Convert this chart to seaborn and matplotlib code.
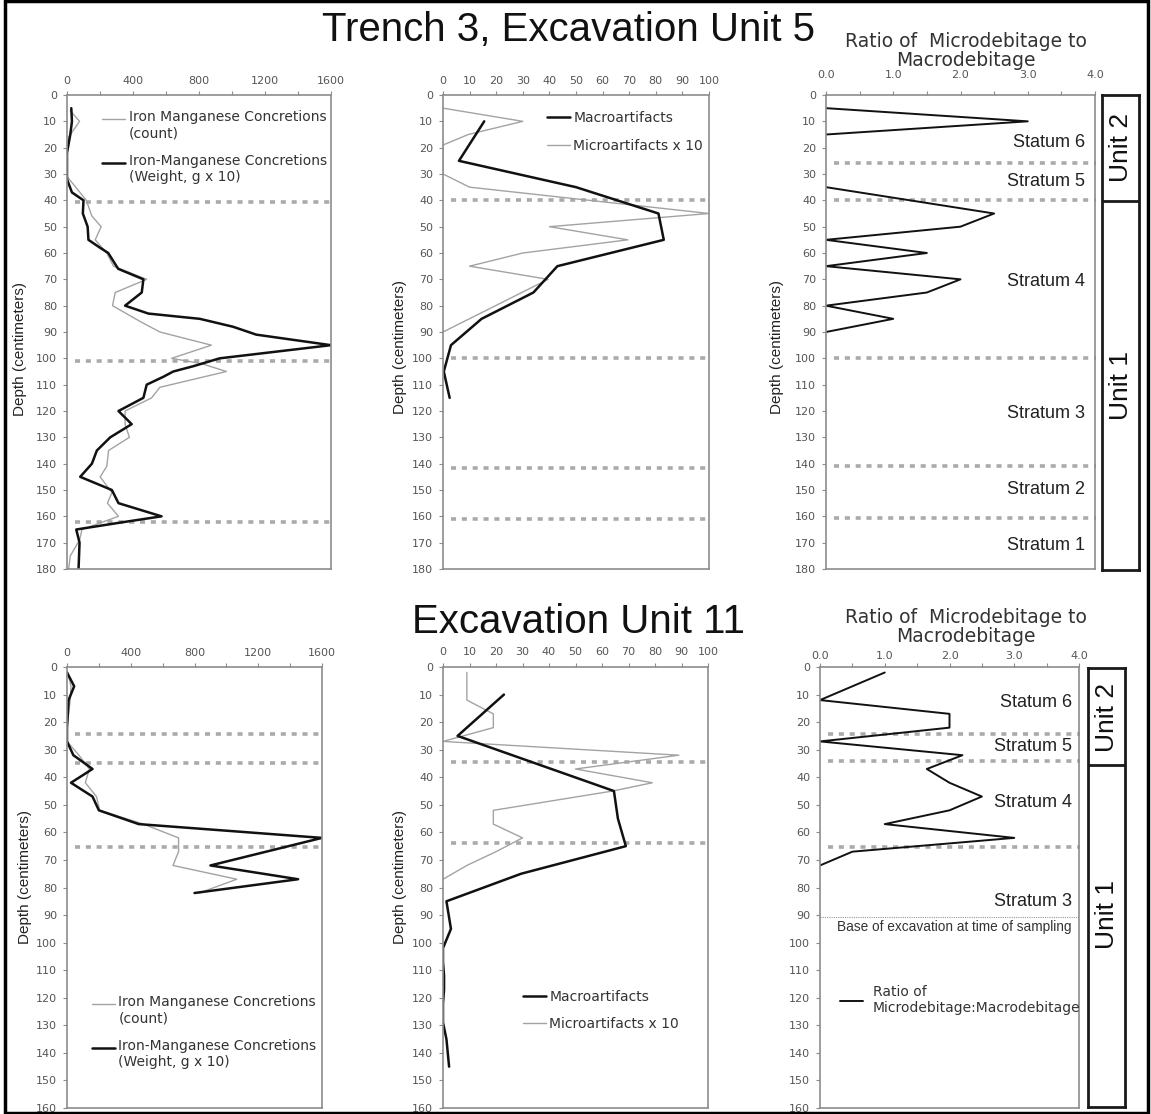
import numpy as np
import pandas as pd
import matplotlib
matplotlib.use("Agg")
import matplotlib.pyplot as plt
import seaborn as sns
from matplotlib.ticker import MultipleLocator, FormatStrFormatter
from matplotlib.lines import Line2D
from matplotlib.patches import Rectangle
from matplotlib.legend_handler import HandlerLine2D

nan = np.nan

# ---------------- DATA ----------------
# Trench 3, Excavation Unit 5 -- iron-manganese concretions
t1_w_depth = [5, 10, 15, 22, 27, 32, 37, 40, 45, 50, 55, 58, 60, 66, 70, 75, 80, 83, 85, 88,
              91, 95, 100, 103, 105, 107, 110, 115, 120, 125, 130, 135, 140, 145, 150, 155,
              160, 162, 165, 170, 180]
t1_w = [26, 30, 20, 0, 0, 0, 30, 100, 96, 125, 130, 200, 250, 310, 463, 453, 352, 493, 805, 1006,
        1147, 1600, 925, 765, 644, 584, 483, 463, 312, 392, 262, 181, 151, 80, 272, 312,
        573, 362, 56, 76, 70]
t1_c_depth = [6, 10, 16, 22, 27, 31, 34, 40, 46, 50, 55, 60, 65, 70, 75, 80, 86, 90, 95, 100,
              102, 105, 111, 115, 120, 125, 130, 135, 141, 145, 151, 155, 160, 165, 169, 175, 180]
t1_c = [20, 76, 10, 0, 0, 0, 40, 117, 151, 207, 171, 241, 282, 483, 292, 276, 443, 563, 875, 634,
        815, 966, 563, 513, 352, 352, 378, 252, 241, 201, 272, 245, 312, 91, 76, 20, 10]

# Trench 3, EU5 -- artifacts
t2_mac_depth = [10, 25, 35, 45, 55, 65, 75, 85, 95, 105, 115]
t2_mac = [15.5, 6, 50, 81, 83, 43, 34, 14.5, 3, 0.3, 2.5]
t2_mic_depth = [5, 10, 15, 19, 25, 30, 35, 45, 50, 55, 60, 65, 70, 90]
t2_mic = [0, 30, 9.5, 0, 0, 0, 10, 100, 40, 69.5, 30, 10, 39.5, 0]

# Trench 3, EU5 -- ratio micro:macro debitage
t3_depth = [5, 10, 15, 25, 35, 45, 50, 55, 60, 65, 70, 75, 80, 85, 90]
t3_ratio = [0, 3.0, 0, nan, 0, 2.5, 2.0, 0, 1.5, 0, 2.0, 1.5, 0, 1.0, 0]

# Excavation Unit 11 -- iron-manganese concretions
b1_depth = [2, 7, 12, 17, 22, 27, 32, 37, 42, 47, 52, 57, 62, 67, 72, 77, 82]
b1_w = [0, 45, 10, 5, 0, 0, 40, 160, 25, 160, 200, 450, 1600, 1250, 900, 1450, 800]
b1_c = [5, 25, 20, 10, 0, 0, 75, 140, 115, 185, 205, 480, 700, 700, 665, 1065, 830]

# EU11 -- artifacts
b2_mac_depth = [10, 25, 45, 55, 65, 75, 85, 95, 102, 107, 112, 117, 122, 129, 135, 145]
b2_mac = [23, 5.5, 64.5, 66, 69, 29.5, 1.3, 3, 0, 0, 0.4, 0.4, 0, 0, 1.3, 2.3]
b2_mic_depth = [2, 12, 17, 22, 27, 32, 37, 42, 45, 52, 57, 62, 67, 72, 77]
b2_mic = [9, 9, 19, 19, 0, 89, 50, 79, 64, 19, 19, 30, 20, 9, 0]

# EU11 -- ratio
b3_depth = [2, 12, 17, 22, 27, 32, 37, 42, 47, 52, 57, 62, 67, 72]
b3_ratio = [1.0, 0, 2.0, 2.0, 0, 2.2, 1.65, 2.0, 2.5, 2.0, 1.0, 3.0, 0.5, 0]

# stratum boundaries (depth, cm)
t1_bounds = [40.5, 101, 162]
t2_bounds = [40, 100, 141.5, 161]
t3_bounds = [26, 40, 100, 141, 160.5]
b1_bounds = [24.3, 34.8, 65.4]
b2_bounds = [34.6, 63.7]
b3_bounds = [24.3, 34.2, 65.2]
b3_base = 90.7

t3_strata = ["Statum 6", "Stratum 5", "Stratum 4", "Stratum 3", "Stratum 2", "Stratum 1"]
t3_strata_y = [18, 33, 71, 121, 150, 171]
b3_strata = ["Statum 6", "Stratum 5", "Stratum 4", "Stratum 3"]
b3_strata_y = [13, 29, 49, 85]

t_units = ["Unit 2", "Unit 1"]
t_unit_div = 40
t_unit_y = [20, 110]
b_unit_div = 35.2
b_unit_y = [18, 90]

# ---------------- STYLE ----------------
sns.set_theme(style="white")
plt.rcParams["font.family"] = ["DejaVu Sans"]
BLACK = "#111111"
GRAY = "#a3a3a3"
SPINE = "#8c8c8c"
TICKC = "#555555"
DOT = "#aaaaaa"
ARIAL = "Liberation Sans"

W, H = 1151, 1114
fig = plt.figure(figsize=(W / 100, H / 100), dpi=100)
fig.patch.set_facecolor("white")


def rect(x0, x1, y0, y1):
    return [x0 / W, 1 - y1 / H, (x1 - x0) / W, (y1 - y0) / H]


def draw(ax, values, depths, color, lw):
    df = pd.DataFrame({"v": values, "d": depths})
    seg = df["v"].isna().cumsum()
    for _, g in df.groupby(seg):
        g = g.dropna()
        if len(g) < 2:
            continue
        sns.lineplot(data=g, x="v", y="d", sort=False, estimator=None,
                     color=color, lw=lw, ax=ax, legend=False)


def style(ax, xmax, major, minor, ymax, fmt, xpad):
    ax.set_xlim(0, xmax)
    ax.set_ylim(ymax, 0)
    ax.xaxis.set_major_locator(MultipleLocator(major))
    if minor:
        ax.xaxis.set_minor_locator(MultipleLocator(minor))
    ax.yaxis.set_major_locator(MultipleLocator(10))
    ax.xaxis.set_major_formatter(FormatStrFormatter(fmt))
    ax.xaxis.tick_top()
    ax.tick_params(axis="x", which="both", top=True, bottom=False, labeltop=True,
                   labelbottom=False, direction="out", length=3, width=0.8,
                   color=SPINE, labelsize=8, labelcolor=TICKC, pad=xpad)
    ax.tick_params(axis="y", which="both", left=True, direction="out", length=3,
                   width=0.8, color=SPINE, labelsize=8, labelcolor=TICKC, pad=4)
    for s in ax.spines.values():
        s.set_color(SPINE)
        s.set_linewidth(1.2)
    ax.grid(False)
    ax.set_xlabel("")
    ax.set_ylabel("")


def bounds(ax, ys):
    for y in ys:
        ax.axhline(y, xmin=0.03, xmax=1.005, clip_on=False, color=DOT, lw=2.6,
                   ls=(0, (1.4, 1.6)), zorder=1.5)


def ylab(ax, xc, yc):
    ax.set_ylabel("Depth (centimeters)", family=ARIAL, fontsize=11, color="#222222",
                  va="center")
    ax.yaxis.set_label_coords(xc, yc)


class HandlerFirstLine(HandlerLine2D):
    def __init__(self, shift=0.0, **kw):
        super().__init__(**kw)
        self.shift = shift

    def create_artists(self, legend, orig_handle, xdescent, ydescent, width, height,
                       fontsize, trans):
        arts = super().create_artists(legend, orig_handle, xdescent, ydescent, width,
                                      height, fontsize, trans)
        for a in arts:
            if isinstance(a, Line2D):
                a.set_ydata(np.asarray(a.get_ydata(), dtype=float) + self.shift * fontsize)
        return arts


def legend(ax, handles, labels, x, y, spacing, shift):
    hmap = {h: HandlerFirstLine(shift=shift) for h in handles}
    leg = ax.legend(handles, labels, loc="upper left", bbox_to_anchor=(x, y),
                    frameon=False, borderpad=0, borderaxespad=0, handlelength=1.65,
                    handletextpad=0.25, labelspacing=spacing,
                    prop={"family": "DejaVu Sans", "size": 10}, labelcolor="#333333",
                    handler_map=hmap)
    return leg


def unit_box(rc, ymax, div, labels, ys):
    ax = fig.add_axes(rc)
    ax.set_xlim(0, 1)
    ax.set_ylim(ymax, 0)
    ax.set_xticks([])
    ax.set_yticks([])
    for s in ax.spines.values():
        s.set_color("#1a1a1a")
        s.set_linewidth(2)
    ax.axhline(div, color="#1a1a1a", lw=2)
    for lab, y in zip(labels, ys):
        ax.text(0.5, y, lab, rotation=90, ha="center", va="center", family=ARIAL,
                fontsize=19, color="#111111")
    return ax


g_h = Line2D([], [], color=GRAY, lw=1.0)
b_h = Line2D([], [], color=BLACK, lw=1.8)

# ---------------- TOP ROW ----------------
ax1 = fig.add_axes(rect(67, 331, 95, 569))
draw(ax1, t1_c, t1_c_depth, GRAY, 1.0)
draw(ax1, t1_w, t1_w_depth, BLACK, 1.8)
style(ax1, 1600, 400, 200, 180, "%d", 3.5)
bounds(ax1, t1_bounds)
ylab(ax1, -0.178, 0.464)
legend(ax1, [g_h, b_h], ["Iron Manganese Concretions\n(count)",
                         "Iron-Manganese Concretions\n(Weight, g x 10)"],
       0.133, 0.968, 1.0, 0.47)

ax2 = fig.add_axes(rect(443, 709, 95, 569))
draw(ax2, t2_mic, t2_mic_depth, GRAY, 1.0)
draw(ax2, t2_mac, t2_mac_depth, BLACK, 1.8)
style(ax2, 100, 10, None, 180, "%d", 3.5)
bounds(ax2, t2_bounds)
ylab(ax2, -0.162, 0.468)
legend(ax2, [b_h, g_h], ["Macroartifacts", "Microartifacts x 10"], 0.391, 0.966, 1.0, 0.0)

ax3 = fig.add_axes(rect(826, 1095, 95, 569))
draw(ax3, t3_ratio, t3_depth, BLACK, 1.4)
style(ax3, 4.0, 1.0, 0.5, 180, "%.1f", 8)
bounds(ax3, t3_bounds)
ylab(ax3, -0.182, 0.468)
for lab, y in zip(t3_strata, t3_strata_y):
    ax3.text(3.85, y, lab, ha="right", va="center", family=ARIAL, fontsize=13,
             color="#222222")
unit_box(rect(1102, 1139, 95, 570), 180, t_unit_div, t_units, t_unit_y)
fig.text(966 / W, 1 - 51 / H, "Ratio of  Microdebitage to\nMacrodebitage", ha="center",
         va="center", fontsize=13.5, color="#333333", linespacing=1.05)

# ---------------- BOTTOM ROW ----------------
ax4 = fig.add_axes(rect(67, 322, 667, 1108))
draw(ax4, b1_c, b1_depth, GRAY, 1.0)
draw(ax4, b1_w, b1_depth, BLACK, 1.8)
style(ax4, 1600, 400, 200, 160, "%d", 3.5)
bounds(ax4, b1_bounds)
ylab(ax4, -0.165, 0.524)
legend(ax4, [g_h, b_h], ["Iron Manganese Concretions\n(count)",
                         "Iron-Manganese Concretions\n(Weight, g x 10)"],
       0.098, 0.256, 1.0, 0.47)

ax5 = fig.add_axes(rect(443, 708, 667, 1108))
draw(ax5, b2_mic, b2_mic_depth, GRAY, 1.0)
draw(ax5, b2_mac, b2_mac_depth, BLACK, 1.8)
style(ax5, 100, 10, None, 160, "%d", 4.5)
bounds(ax5, b2_bounds)
ylab(ax5, -0.162, 0.524)
legend(ax5, [b_h, g_h], ["Macroartifacts", "Microartifacts x 10"], 0.302, 0.268, 0.95, 0.0)

ax6 = fig.add_axes(rect(820, 1079, 667, 1108))
draw(ax6, b3_ratio, b3_depth, BLACK, 1.4)
style(ax6, 4.0, 1.0, 0.5, 160, "%.1f", 1.5)
bounds(ax6, b3_bounds)
ax6.axhline(b3_base, color="#999999", lw=0.8, ls=(0, (1, 1)), zorder=1.5)
ax6.text(0.52, b3_base + 3.6, "Base of excavation at time of sampling",
         transform=ax6.get_yaxis_transform(), ha="center", va="center", family=ARIAL,
         fontsize=9.8, color="#333333")
for lab, y in zip(b3_strata, b3_strata_y):
    ax6.text(3.89, y, lab, ha="right", va="center", family=ARIAL, fontsize=13,
             color="#222222")
leg6 = ax6.legend([Line2D([], [], color=BLACK, lw=1.4)],
                  ["Ratio of\nMicrodebitage:Macrodebitage"], loc="upper left",
                  bbox_to_anchor=(0.077, 0.279), frameon=False, borderpad=0,
                  borderaxespad=0, handlelength=1.65, handletextpad=0.7,
                  prop={"family": "DejaVu Sans", "size": 10}, labelcolor="#333333")
unit_box(rect(1088, 1125, 668, 1107), 160, b_unit_div, t_units, b_unit_y)
fig.text(966 / W, 1 - 627 / H, "Ratio of  Microdebitage to\nMacrodebitage", ha="center",
         va="center", fontsize=13.5, color="#333333", linespacing=1.05)

# ---------------- TITLES & FRAME ----------------
fig.text(569 / W, 1 - 30 / H, "Trench 3, Excavation Unit 5", ha="center", va="center",
         family=ARIAL, fontsize=29, color="#111111")
fig.text(579 / W, 1 - 622 / H, "Excavation Unit 11", ha="center", va="center",
         family=ARIAL, fontsize=29, color="#111111")
fig.patches.append(Rectangle((0.004, 0.001), 0.993, 0.998, transform=fig.transFigure,
                             fill=False, lw=2.5, ec="black", zorder=10))

fig.savefig("out.png", dpi=100, facecolor="white")
